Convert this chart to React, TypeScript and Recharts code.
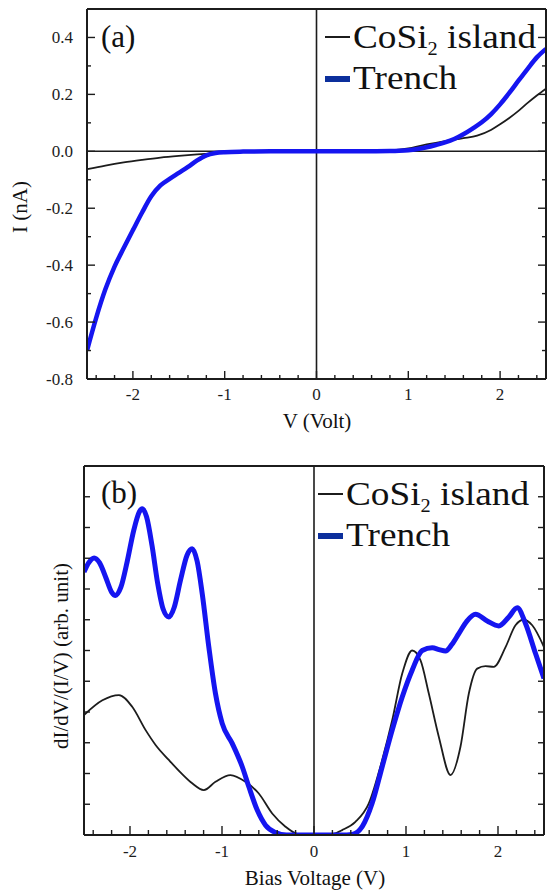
import React from 'react';
import { LineChart, Line, XAxis, YAxis, ReferenceLine } from 'recharts';

const SERIF = '"Liberation Serif", "Times New Roman", Times, serif';
const INK = '#1c1c1c';
const BLUE = '#1515f0';
const LEGEND_BLUE = '#0c2f9c';

// (a) I-V curves
const ivIslandV = [-2.5, -2.3, -2.1, -1.9, -1.7, -1.5, -1.3, -1.1, -0.9, -0.6, 0, 0.6, 0.8, 1.0, 1.2, 1.4, 1.6, 1.75, 1.9, 2.0, 2.1, 2.2, 2.3, 2.4, 2.5];
const ivIslandI = [-0.063, -0.05, -0.039, -0.03, -0.022, -0.016, -0.011, -0.007, -0.003, 0, 0, 0.001, 0.003, 0.01, 0.024, 0.036, 0.046, 0.055, 0.075, 0.095, 0.117, 0.142, 0.17, 0.196, 0.22];

const ivTrenchV = [-2.5, -2.4, -2.3, -2.2, -2.1, -2.0, -1.9, -1.8, -1.7, -1.6, -1.5, -1.4, -1.3, -1.2, -1.1, -1.0, -0.8, -0.5, 0, 0.5, 0.8, 0.9, 1.0, 1.1, 1.2, 1.3, 1.4, 1.5, 1.6, 1.7, 1.8, 1.9, 2.0, 2.1, 2.2, 2.3, 2.4, 2.5];
const ivTrenchI = [-0.7, -0.585, -0.485, -0.405, -0.34, -0.277, -0.215, -0.158, -0.12, -0.097, -0.076, -0.055, -0.032, -0.014, -0.006, -0.003, -0.001, 0, 0, 0, 0.001, 0.002, 0.004, 0.008, 0.014, 0.022, 0.031, 0.043, 0.06, 0.08, 0.102, 0.13, 0.165, 0.205, 0.248, 0.29, 0.33, 0.36];

// (b) normalized conductance
const dosIslandV = [-2.5, -2.3, -2.12, -1.976, -1.83, -1.72, -1.578, -1.433, -1.324, -1.198, -1.071, -0.908, -0.745, -0.6, -0.454, -0.31, -0.18, -0.1, 0.1, 0.2, 0.306, 0.45, 0.596, 0.741, 0.85, 0.959, 1.067, 1.158, 1.248, 1.357, 1.484, 1.592, 1.683, 1.774, 1.864, 1.954, 2.082, 2.19, 2.28, 2.372, 2.5];
const dosIslandG = [3.9, 4.38, 4.55, 4.17, 3.41, 2.92, 2.44, 1.98, 1.68, 1.46, 1.73, 1.95, 1.73, 1.35, 0.7, 0.27, 0.03, 0, 0, 0.03, 0.16, 0.43, 1.03, 2.44, 3.73, 5.25, 6.0, 5.68, 4.6, 3.19, 1.95, 2.87, 4.6, 5.41, 5.49, 5.47, 6.11, 6.82, 7.0, 6.82, 6.11];

const dosTrenchV = [-2.5, -2.45, -2.39, -2.33, -2.26, -2.2, -2.157, -2.1, -2.03, -1.96, -1.9, -1.868, -1.82, -1.76, -1.7, -1.64, -1.578, -1.52, -1.45, -1.38, -1.324, -1.27, -1.215, -1.143, -1.071, -0.998, -0.889, -0.78, -0.708, -0.617, -0.527, -0.418, -0.3, 0, 0.3, 0.415, 0.524, 0.632, 0.741, 0.85, 0.959, 1.067, 1.176, 1.285, 1.36, 1.429, 1.5, 1.574, 1.66, 1.755, 1.883, 2.009, 2.118, 2.209, 2.3, 2.408, 2.5];
const dosTrenchG = [8.55, 8.85, 9.01, 8.85, 8.35, 7.9, 7.79, 8.05, 8.9, 9.9, 10.5, 10.61, 10.35, 9.4, 8.2, 7.35, 7.09, 7.4, 8.3, 9.1, 9.31, 8.9, 7.85, 6.11, 4.6, 3.63, 2.98, 2.22, 1.57, 0.81, 0.32, 0.08, 0, 0, 0, 0.02, 0.27, 1.03, 2.22, 3.41, 4.49, 5.36, 6.0, 6.09, 6.03, 5.98, 6.2, 6.55, 6.95, 7.18, 6.96, 6.8, 7.09, 7.39, 6.87, 5.9, 5.09];

// tick positions (majors get labels)
const biasTicks = [-2.4, -2.2, -2, -1.8, -1.6, -1.4, -1.2, -1, -0.8, -0.6, -0.4, -0.2, 0, 0.2, 0.4, 0.6, 0.8, 1, 1.2, 1.4, 1.6, 1.8, 2, 2.2, 2.4];
const currentTicks = [-0.8, -0.7, -0.6, -0.5, -0.4, -0.3, -0.2, -0.1, 0, 0.1, 0.2, 0.3, 0.4];
const dosTicks = [1, 2, 3, 4, 5, 6, 7, 8, 9, 10, 11];

const zip = (xs: number[], ys: number[]) => xs.map((v, k) => ({ v, y: ys[k] }));
const ivIsland = zip(ivIslandV, ivIslandI);
const ivTrench = zip(ivTrenchV, ivTrenchI);
const dosIsland = zip(dosIslandV, dosIslandG);
const dosTrench = zip(dosTrenchV, dosTrenchG);

const frame = { stroke: INK, strokeWidth: 2 };

type Side = 'bottom' | 'top' | 'left' | 'right';

// draws inward tick marks; labels only on majors
function axisTick(side: Side, step: number, long: number, short: number, fmt?: (v: number) => string, gap = 0) {
  return (p: any) => {
    const { x, y, payload } = p;
    const v = payload.value;
    const major = Math.abs(v / step - Math.round(v / step)) < 1e-6;
    const len = major ? long : short;
    const dx = side === 'left' ? len : side === 'right' ? -len : 0;
    const dy = side === 'bottom' ? -len : side === 'top' ? len : 0;
    let label = null;
    if (fmt && major) {
      label =
        side === 'bottom' ? (
          <text x={x} y={y + gap} textAnchor="middle" style={{ fontFamily: SERIF }} fontSize={17} fill={INK}>
            {fmt(v)}
          </text>
        ) : (
          <text x={x - gap} y={y} dy="0.34em" textAnchor="end" style={{ fontFamily: SERIF }} fontSize={17} fill={INK}>
            {fmt(v)}
          </text>
        );
    }
    return (
      <g>
        <line x1={x} y1={y} x2={x + dx} y2={y + dy} stroke={INK} strokeWidth={1.4} />
        {label}
      </g>
    );
  };
}

const fmtBias = (v: number) => String(Math.round(v));
const fmtCurrent = (v: number) => v.toFixed(1);

function IVPanel() {
  return (
    <LineChart width={547} height={440} margin={{ top: 8, right: 0, bottom: 0, left: 0 }}>
      <XAxis dataKey="v" type="number" domain={[-2.5, 2.5]} ticks={biasTicks} interval={0} allowDataOverflow
        height={61} tickSize={0} tickMargin={0} tickLine={false} axisLine={frame}
        tick={axisTick('bottom', 1, 8, 4, fmtBias, 21)} />
      <XAxis xAxisId="top" orientation="top" type="number" domain={[-2.5, 2.5]} ticks={biasTicks} interval={0} allowDataOverflow
        height={1} tickSize={0} tickMargin={0} tickLine={false} axisLine={frame}
        tick={axisTick('top', 1, 8, 4)} />
      <YAxis type="number" domain={[-0.8, 0.5]} ticks={currentTicks} interval={0} allowDataOverflow
        width={87} tickSize={0} tickMargin={0} tickLine={false} axisLine={frame}
        tick={axisTick('left', 0.2, 8, 4, fmtCurrent, 14)} />
      <YAxis yAxisId="right" orientation="right" type="number" domain={[-0.8, 0.5]} ticks={currentTicks} interval={0} allowDataOverflow
        width={1} tickSize={0} tickMargin={0} tickLine={false} axisLine={frame}
        tick={axisTick('right', 0.2, 8, 4)} />
      <ReferenceLine x={0} stroke={INK} strokeWidth={1.6} />
      <ReferenceLine y={0} stroke={INK} strokeWidth={1.6} />
      <Line data={ivIsland} dataKey="y" type="monotone" stroke={INK} strokeWidth={1.8} dot={false} isAnimationActive={false} />
      <Line data={ivTrench} dataKey="y" type="monotone" stroke={BLUE} strokeWidth={4.5} dot={false} isAnimationActive={false} />
    </LineChart>
  );
}

function DOSPanel() {
  return (
    <LineChart width={545} height={452} margin={{ top: 25, right: 0, bottom: 0, left: 0 }}>
      <XAxis dataKey="v" type="number" domain={[-2.5, 2.5]} ticks={biasTicks} interval={0} allowDataOverflow
        height={57} tickSize={0} tickMargin={0} tickLine={false} axisLine={frame}
        tick={axisTick('bottom', 1, 9, 5, fmtBias, 22)} />
      <XAxis xAxisId="top" orientation="top" type="number" domain={[-2.5, 2.5]} ticks={biasTicks} interval={0} allowDataOverflow
        height={1} tickSize={0} tickMargin={0} tickLine={false} axisLine={frame}
        tick={axisTick('top', 1, 9, 5)} />
      <YAxis type="number" domain={[0, 12]} ticks={dosTicks} interval={0} allowDataOverflow
        width={84} tickSize={0} tickMargin={0} tickLine={false} axisLine={frame}
        tick={axisTick('left', 1, 6, 6)} />
      <YAxis yAxisId="right" orientation="right" type="number" domain={[0, 12]} ticks={dosTicks} interval={0} allowDataOverflow
        width={1} tickSize={0} tickMargin={0} tickLine={false} axisLine={frame}
        tick={axisTick('right', 1, 6, 6)} />
      <ReferenceLine x={0} stroke={INK} strokeWidth={1.6} />
      <Line data={dosIsland} dataKey="y" type="monotone" stroke={INK} strokeWidth={1.8} dot={false} isAnimationActive={false} />
      <Line data={dosTrench} dataKey="y" type="monotone" stroke={BLUE} strokeWidth={5} dot={false} isAnimationActive={false} />
    </LineChart>
  );
}

function LegendBlock({ x, y }: { x: number; y: number }) {
  // x: left of sample line, y: baseline of first entry; text a bit wider than the font, as in the source figure
  return (
    <g style={{ fontFamily: SERIF }} fill="#111">
      <line x1={x} x2={x + 25} y1={y - 11} y2={y - 11} stroke={INK} strokeWidth={2} />
      <text transform={`translate(${x + 28} ${y}) scale(1.13 1)`} fontSize={33}>
        <tspan>CoSi</tspan>
        <tspan fontSize={18} dy={7}>2</tspan>
        <tspan dy={-7}> island</tspan>
      </text>
      <line x1={x} x2={x + 25} y1={y + 31} y2={y + 31} stroke={LEGEND_BLUE} strokeWidth={6} />
      <text transform={`translate(${x + 28} ${y + 41}) scale(1.13 1)`} fontSize={33}>Trench</text>
    </g>
  );
}

export default function App() {
  return (
    <div style={{ position: 'absolute', left: 0, top: 0, width: 547, height: 892, overflow: 'hidden', background: '#fff' }}>
      <div style={{ position: 'absolute', left: 0, top: 0 }}>
        <IVPanel />
      </div>
      <div style={{ position: 'absolute', left: 0, top: 440 }}>
        <DOSPanel />
      </div>
      <svg width={547} height={892} style={{ position: 'absolute', left: 0, top: 0, pointerEvents: 'none' }}>
        <g style={{ fontFamily: SERIF }} fill="#111">
          <text x={101} y={47} fontSize={31}>(a)</text>
          <text x={27} y={207} fontSize={21} textAnchor="middle" transform="rotate(-90 27 207)">I (nA)</text>
          <text x={317} y={428} fontSize={21} textAnchor="middle">V (Volt)</text>
          <text x={101} y={503} fontSize={31}>(b)</text>
          <text x={68} y={656} fontSize={21} textAnchor="middle" transform="rotate(-90 68 656)">dI/dV/(I/V) (arb. unit)</text>
          <text x={315} y={885} fontSize={21} textAnchor="middle">Bias Voltage (V)</text>
        </g>
        <LegendBlock x={325} y={48} />
        <LegendBlock x={318} y={505} />
      </svg>
    </div>
  );
}
